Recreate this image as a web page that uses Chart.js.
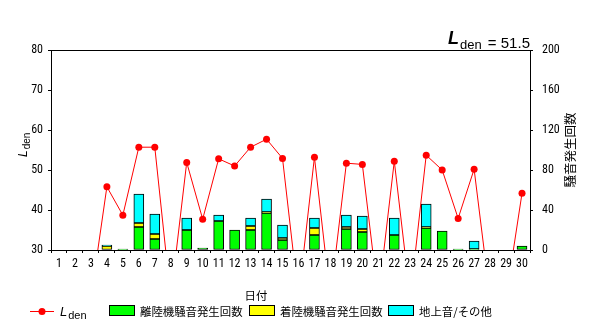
<!DOCTYPE html>
<html>
<head>
<meta charset="utf-8">
<script src="https://cdn.jsdelivr.net/npm/chart.js@4/dist/chart.umd.min.js"></script>
<style>
  html, body { margin: 0; padding: 0; background: #fff; }
  #wrap { width: 600px; height: 329px; }
</style>
</head>
<body>
<div id="wrap"><canvas id="myChart" width="600" height="329"></canvas></div>
<script>
// 日付
const days = ['1','2','3','4','5','6','7','8','9','10','11','12','13','14','15',
              '16','17','18','19','20','21','22','23','24','25','26','27','28','29','30'];
// Lden (dB) — 欠測日は軸より下の値
const lden = [18, 18, 18, 45.8, 38.7, 55.7, 55.7, 18, 51.9, 37.7, 52.8, 51.0, 55.7, 57.7, 52.9,
              18, 53.2, 18, 51.7, 51.4, 18, 52.2, 18, 53.7, 50.0, 37.9, 50.2, 18, 18, 44.2];
const ldenMonth = '51.5';
// 騒音発生回数
const takeoff = [0, 0, 0, 0, 1, 23, 11, 0, 20, 2, 29, 20, 20, 37, 10,
                 0, 15, 0, 21, 18, 0, 15, 0, 22, 19, 1, 1, 0, 0, 4];
const landing = [0, 0, 0, 4, 0, 4, 5, 0, 0, 0, 0, 0, 4, 1, 2,
                 0, 7, 0, 2, 3, 0, 0, 0, 1, 0, 0, 0, 0, 0, 0];
const ground  = [0, 0, 0, 1, 0, 29, 20, 0, 12, 0, 6, 0, 8, 13, 13,
                 0, 10, 0, 12, 13, 0, 17, 0, 23, 0, 0, 8, 0, 0, 0];
const seriesNames = ['離陸機騒音発生回数', '着陸機騒音発生回数', '地上音/その他'];
const seriesColors = ['#00ff00', '#ffff00', '#00ffff'];

const numFont = { family: "'Liberation Sans Narrow', 'Roboto Condensed', 'Liberation Sans', sans-serif", size: 12 };
const jpFont = "11.4px 'Noto Sans CJK JP', sans-serif";

function noZero(arr) {
    return arr.map(v => v === 0 ? null : v);
}

// 下付き文字付きの「L den」を描く
function drawLden(ctx, x, y, big, small, weight) {
    ctx.font = 'italic ' + weight + ' ' + big + 'px "Liberation Sans", sans-serif';
    ctx.fillText('L', x, y);
    const w = ctx.measureText('L').width;
    ctx.font = small + 'px "Liberation Sans", sans-serif';
    ctx.fillText('den', x + w + 1, y + big * 0.25);
    return x + w + 1 + ctx.measureText('den').width;
}

const decorations = {
    id: 'decorations',
    afterDraw(chart) {
        const ctx = chart.ctx;
        const a = chart.chartArea;
        ctx.save();
        ctx.fillStyle = '#000';
        ctx.strokeStyle = '#000';
        ctx.lineWidth = 1;
        ctx.textBaseline = 'alphabetic';

        // 上辺
        ctx.beginPath();
        ctx.moveTo(a.left, a.top + 0.5);
        ctx.lineTo(a.right, a.top + 0.5);
        ctx.stroke();

        // 左軸タイトル
        ctx.save();
        ctx.translate(27, 157);
        ctx.rotate(-Math.PI / 2);
        drawLden(ctx, 0, 0, 12, 10, 'normal');
        ctx.restore();

        // 右軸タイトル
        ctx.save();
        ctx.translate(570, 150);
        ctx.rotate(-Math.PI / 2);
        ctx.font = "12.5px 'Noto Sans CJK JP', sans-serif";
        ctx.textAlign = 'center';
        ctx.textBaseline = 'middle';
        ctx.fillText('騒音発生回数', 0, 0);
        ctx.restore();

        // 月間値
        let xe = drawLden(ctx, 448, 44, 18, 13, 'bold');
        ctx.font = '15px "Liberation Sans", sans-serif';
        ctx.fillText(' = ' + ldenMonth, xe + 2, 48);

        // x軸タイトル
        ctx.font = jpFont;
        ctx.textAlign = 'center';
        ctx.fillText('日付', 256, 300);
        ctx.textAlign = 'left';

        // 凡例
        const ly = 311;
        ctx.strokeStyle = '#ff0000';
        ctx.beginPath();
        ctx.moveTo(30, ly + 0.5);
        ctx.lineTo(54, ly + 0.5);
        ctx.stroke();
        ctx.fillStyle = '#ff0000';
        ctx.beginPath();
        ctx.arc(42, ly + 0.5, 3.5, 0, Math.PI * 2);
        ctx.fill();
        ctx.fillStyle = '#000';
        drawLden(ctx, 60, 316, 13, 11, 'normal');

        const boxX = [109, 249, 388];
        ctx.font = jpFont;
        for (let i = 0; i < 3; i++) {
            ctx.fillStyle = seriesColors[i];
            ctx.fillRect(boxX[i] + 0.5, 305.5, 25, 10);
            ctx.strokeStyle = '#000';
            ctx.strokeRect(boxX[i] + 0.5, 305.5, 25, 10);
            ctx.fillStyle = '#000';
            ctx.fillText(seriesNames[i], boxX[i] + 31, 316);
        }
        ctx.restore();
    }
};

const barCommon = {
    type: 'bar',
    yAxisID: 'y2',
    stack: 'count',
    borderColor: '#000',
    borderWidth: 1,
    borderSkipped: false,
    barThickness: 10,
    order: 1
};

new Chart(document.getElementById('myChart'), {
    data: {
        labels: days,
        datasets: [
            {
                type: 'line',
                label: 'Lden',
                data: lden,
                yAxisID: 'y',
                borderColor: '#ff0000',
                backgroundColor: '#ff0000',
                borderWidth: 1,
                pointRadius: 3.5,
                pointBorderWidth: 0,
                tension: 0,
                order: 0
            },
            Object.assign({ label: seriesNames[0], data: noZero(takeoff), backgroundColor: seriesColors[0] }, barCommon),
            Object.assign({ label: seriesNames[1], data: noZero(landing), backgroundColor: seriesColors[1] }, barCommon),
            Object.assign({ label: seriesNames[2], data: noZero(ground), backgroundColor: seriesColors[2] }, barCommon)
        ]
    },
    options: {
        responsive: false,
        animation: false,
        layout: { padding: { left: 0, right: 0, top: 50, bottom: 0 } },
        plugins: {
            legend: { display: false },
            tooltip: { enabled: false }
        },
        scales: {
            x: {
                stacked: true,
                offset: true,
                grid: { display: true, drawOnChartArea: false, tickLength: 3, color: '#000' },
                border: { color: '#000' },
                ticks: { color: '#000', font: numFont, padding: 4, autoSkip: false, maxRotation: 0 },
                afterFit(s) { s.height = 79; }
            },
            y: {
                position: 'left',
                min: 30,
                max: 80,
                ticks: { stepSize: 10, color: '#000', font: numFont, padding: 5 },
                grid: { display: true, drawOnChartArea: false, tickLength: 3, color: '#000' },
                border: { color: '#000' },
                afterFit(s) { s.width = 51; }
            },
            y2: {
                position: 'right',
                stacked: true,
                min: 0,
                max: 200,
                ticks: { stepSize: 40, color: '#000', font: numFont, padding: 9 },
                grid: { display: true, drawOnChartArea: false, tickLength: 3, color: '#000' },
                border: { color: '#000' },
                afterFit(s) { s.width = 70; }
            }
        }
    },
    plugins: [decorations]
});
</script>
</body>
</html>
